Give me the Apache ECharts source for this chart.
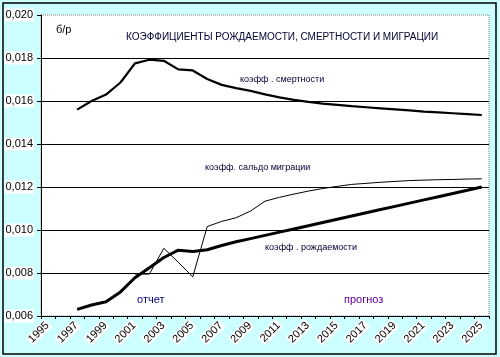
<!DOCTYPE html>
<html><head><meta charset="utf-8">
<script src="https://cdn.jsdelivr.net/npm/echarts@6/dist/echarts.min.js"></script>
<style>html,body{margin:0;padding:0;}#c{width:500px;height:357px;}</style>
</head><body><div id="c"></div>
<script>
var years = [];
for (var y = 1995; y <= 2025; y++) years.push(String(y));
var yTicks = [0.006, 0.008, 0.010, 0.012, 0.014, 0.016, 0.018, 0.020];
var deathRate = [null, null,
  0.01560, 0.01600, 0.01630, 0.01686, 0.01775, 0.01792, 0.01787, 0.01747, 0.01742,
  0.01702, 0.01675, 0.01660, 0.01647, 0.01631, 0.01617, 0.01605, 0.01596, 0.01588,
  0.01582, 0.01576, 0.01571, 0.01566, 0.01561, 0.01556, 0.01551, 0.01547, 0.01543,
  0.01539, 0.01535];
var birthRate = [null, null,
  0.00631, 0.00651, 0.00666, 0.00712, 0.00778, 0.00824, 0.00872, 0.00906, 0.00900,
  0.00908, 0.00928, 0.00945, 0.00960, 0.00975, 0.00990, 0.01005, 0.01020, 0.01035,
  0.01050, 0.01065, 0.01080, 0.01095, 0.01110, 0.01125, 0.01140, 0.01155, 0.01170,
  0.01185, 0.01200];
var migrationRate = [null, null, null, null, null, null,
  0.00795, 0.00795, 0.00915, 0.00850, 0.00782,
  0.01016, 0.01040, 0.01057, 0.01088, 0.01134, 0.01152, 0.01167, 0.01181, 0.01193,
  0.01203, 0.01212, 0.01217, 0.01222, 0.01226, 0.01230, 0.01232, 0.01234, 0.01235,
  0.01237, 0.01238];

var pc = document.createElement('canvas');
pc.width = 8; pc.height = 8;
var g = pc.getContext('2d');
g.fillStyle = '#ccffff'; g.fillRect(0, 0, 8, 8);
g.fillStyle = '#e8f4f4'; g.fillRect(2, 2, 1, 1);
g.fillRect(6, 6, 1, 1);

var FF = 'Liberation Sans, Arial, sans-serif';
var chart = echarts.init(document.getElementById('c'));
chart.setOption({
  backgroundColor: {image: pc, repeat: 'repeat'},
  animation: false,
  grid: {left: 41, right: 11, top: 15, bottom: 41, show: true, backgroundColor: '#fff',
    borderColor: '#808080', borderWidth: 1, borderType: 'dotted'},
  xAxis: {
    type: 'category', data: years, boundaryGap: true,
    axisLine: {lineStyle: {color: '#000', width: 1}},
    axisTick: {show: true, interval: 0, length: 3, lineStyle: {color: '#000'}},
    axisLabel: {interval: 1, rotate: 45, margin: 7, color: '#000', fontFamily: FF, fontSize: 11,
      backgroundColor: '#fff', padding: [0, 1]},
    splitLine: {show: false}
  },
  yAxis: {
    type: 'value', min: yTicks[0], max: yTicks[yTicks.length - 1], interval: 0.002,
    axisLine: {show: true, lineStyle: {color: '#000', width: 1}},
    axisTick: {show: true, length: 4, lineStyle: {color: '#000'}},
    axisLabel: {margin: 7, color: '#000', fontFamily: FF, fontSize: 11,
      backgroundColor: '#fff', padding: [1, 1],
      formatter: function (v) { return v.toFixed(3).replace('.', ','); }},
    splitLine: {show: true, lineStyle: {color: ['#000', '#000', '#000', '#000', '#000', '#000', '#000', 'rgba(0,0,0,0)'], width: 1}}
  },
  series: [
    {type: 'line', name: 'death', data: deathRate, symbol: 'none', connectNulls: false,
      lineStyle: {color: '#000', width: 2.2}},
    {type: 'line', name: 'birth', data: birthRate, symbol: 'none',
      lineStyle: {color: '#000', width: 3}},
    {type: 'line', name: 'migration', data: migrationRate, symbol: 'none',
      lineStyle: {color: '#000', width: 1}}
  ],
  graphic: [
    {type: 'rect', shape: {x: 3, y: 3, width: 493, height: 351}, style: {fill: 'none', stroke: '#000', lineWidth: 1.5}, z: 100},
    {type: 'text', left: 56, top: 24, style: {text: 'б/р', fill: '#000', font: '11px ' + FF}},
    {type: 'text', left: 126, top: 32, style: {text: 'КОЭФФИЦИЕНТЫ РОЖДАЕМОСТИ, СМЕРТНОСТИ И МИГРАЦИИ', fill: '#000033', font: '10px ' + FF}},
    {type: 'text', left: 240, top: 75, style: {text: 'коэфф . смертности', fill: '#000033', font: '9px ' + FF}},
    {type: 'text', left: 205, top: 163, style: {text: 'коэфф. сальдо миграции', fill: '#000033', font: '9px ' + FF}},
    {type: 'text', left: 265, top: 243, style: {text: 'коэфф . рождаемости', fill: '#000033', font: '9px ' + FF}},
    {type: 'text', left: 137, top: 294, style: {text: 'отчет', fill: '#000080', font: '11px ' + FF}},
    {type: 'text', left: 344, top: 294, style: {text: 'прогноз', fill: '#660099', font: '11px ' + FF}}
  ]
});
</script></body></html>
